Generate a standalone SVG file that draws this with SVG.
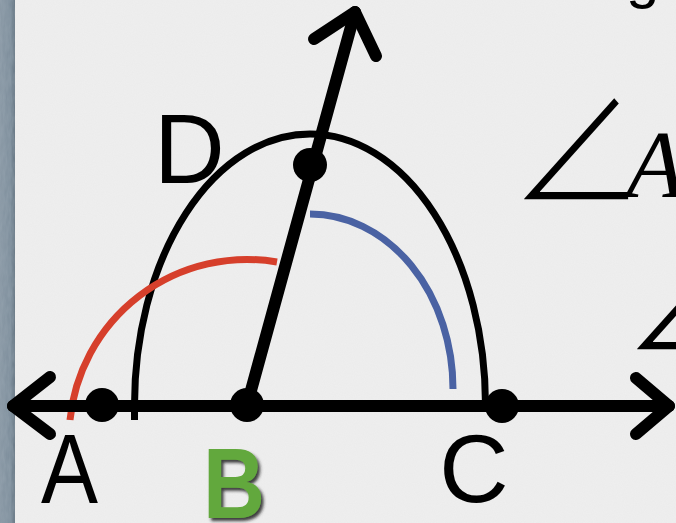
<svg xmlns="http://www.w3.org/2000/svg" width="676" height="523" viewBox="0 0 676 523">
  <defs>
    <style>
      .lbl { font-family: "Liberation Sans", Arial, sans-serif; font-size: 98px; fill: #000; }
      .thick { stroke: #000; stroke-width: 12; fill: none; stroke-linecap: round; stroke-linejoin: round; }
      .arc { fill: none; stroke-width: 7; }
      .dot { fill: #000; }
      .ang { font-family: "Noto Sans CJK JP", "DejaVu Sans", sans-serif; font-weight: 300; font-size: 150px; fill: #000; }
    </style>
    <filter id="noise" x="0" y="0" width="100%" height="100%">
      <feTurbulence type="fractalNoise" baseFrequency="0.9" numOctaves="2" seed="3" result="n"/>
      <feColorMatrix in="n" type="matrix" values="0 0 0 0 0.5  0 0 0 0 0.5  0 0 0 0 0.5  0 0 0 0.08 0"/>
    </filter>
    <filter id="stone" x="0" y="0" width="100%" height="100%">
      <feTurbulence type="fractalNoise" baseFrequency="0.35 0.08" numOctaves="3" seed="7" result="n"/>
      <feColorMatrix in="n" type="matrix" values="0 0 0 0 0.35  0 0 0 0 0.42  0 0 0 0 0.48  0 0 0 0.5 0"/>
    </filter>
    <linearGradient id="edge" x1="0" y1="0" x2="1" y2="0">
      <stop offset="0" stop-color="#8796a3"/>
      <stop offset="0.7" stop-color="#7a8b99"/>
      <stop offset="1" stop-color="#5f6f7c"/>
    </linearGradient>
    <filter id="shadow" x="-20%" y="-20%" width="140%" height="140%">
      <feDropShadow dx="2.5" dy="3" stdDeviation="1.5" flood-color="#1a1a1a" flood-opacity="0.85"/>
    </filter>
  </defs>

  <rect x="0" y="0" width="676" height="523" fill="#efefef"/>
  <rect x="0" y="0" width="676" height="523" filter="url(#noise)"/>
  <rect x="0" y="0" width="15" height="523" fill="url(#edge)"/>
  <rect x="0" y="0" width="15" height="523" filter="url(#stone)"/>

  <text x="626" y="-3" class="lbl" style="font-size:60px">g</text>

  <g id="angle-text">
    <text x="508" y="203" class="ang" transform="translate(527,0) scale(0.9,1) translate(-527,0)">∠</text>
    <text x="626" y="197" font-family="Liberation Serif, serif" font-style="italic" font-size="96" fill="#000">A</text>
    <text x="621" y="353" class="ang" transform="translate(640,0) scale(0.9,1) translate(-640,0)">∠</text>
  </g>

  <g id="connectors">
    <path class="arc" stroke="#000" d="M134.5,420 L134.5,405 A175.5,271 0 0 1 485.5,405 L485.5,410"/>
    <path class="arc" stroke="#d63f2b" d="M70,420 A178,178 0 0 1 277,262"/>
    <path class="arc" stroke="#4a62a3" d="M310,214 A143,175 0 0 1 453,389"/>
    <line class="thick" x1="13" y1="406" x2="669" y2="406"/>
    <polyline class="thick" points="50,377 13,406 50,434"/>
    <polyline class="thick" points="636,378 669,406 636,434"/>
    <line class="thick" x1="247" y1="405" x2="355" y2="12"/>
    <polyline class="thick" points="314,39 355,12 376,56"/>
  </g>

  <g id="node-A">
    <circle class="dot" cx="102" cy="405" r="17"/>
    <text class="lbl" x="41" y="503" textLength="57" lengthAdjust="spacingAndGlyphs">A</text>
  </g>
  <g id="node-B">
    <circle class="dot" cx="247" cy="405" r="17"/>
    <text class="lbl" x="203" y="518" textLength="62" lengthAdjust="spacingAndGlyphs" font-weight="bold" style="fill:#62a83c; font-size:100px" filter="url(#shadow)">B</text>
  </g>
  <g id="node-C">
    <circle class="dot" cx="502" cy="406" r="17"/>
    <text class="lbl" x="474" y="502" text-anchor="middle" style="font-size:96px">C</text>
  </g>
  <g id="node-D">
    <circle class="dot" cx="310" cy="165" r="17"/>
    <text class="lbl" x="154" y="183">D</text>
  </g>
</svg>
